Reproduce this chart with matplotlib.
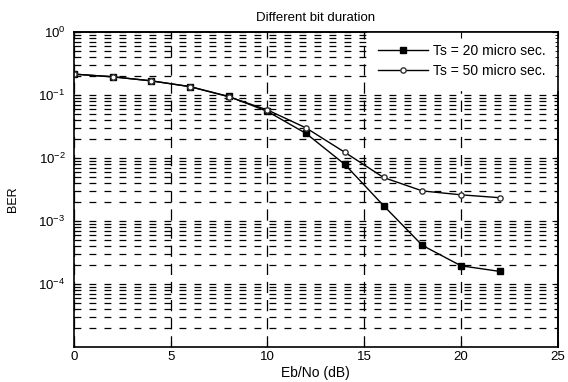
import matplotlib.pyplot as plt

plt.rcParams['font.family'] = ['Liberation Sans', 'DejaVu Sans']

ebno = [0, 2, 4, 6, 8, 10, 12, 14, 16, 18, 20, 22]

ber_20 = [0.215, 0.195, 0.168, 0.136, 0.095, 0.055, 0.0245,
          0.0079, 0.00175, 0.00041, 0.000194, 0.000158]

ber_50 = [0.215, 0.195, 0.168, 0.136, 0.094, 0.058, 0.030,
          0.0123, 0.0049, 0.0030, 0.0026, 0.00234]

labels = ["Ts = 20 micro sec.", "Ts = 50 micro sec."]
xticks = [0, 5, 10, 15, 20, 25]
yticks = [1e-4, 1e-3, 1e-2, 1e-1, 1e0]

fig = plt.figure(figsize=(5.68, 3.82), dpi=100)
ax = fig.add_axes([0.130, 0.092, 0.852, 0.824])

ax.semilogy(ebno, ber_20, color='black', lw=1, marker='s', ms=4,
            mfc='black', mec='black', label=labels[0])
ax.semilogy(ebno, ber_50, color='black', lw=1, marker='o', ms=3.8,
            mfc='white', mec='#333333', label=labels[1])

ax.set_xlim(0, 25)
ax.set_ylim(1e-5, 1)
ax.set_xticks(xticks)
ax.set_yticks(yticks)

# matlab style dashed grid, minor lines only on the log axis
ax.grid(True, which='major', axis='y', color='black', ls=(0, (5.5, 6.5)), lw=0.9)
ax.grid(True, which='minor', axis='y', color='black', ls=(0, (5.5, 6.5)), lw=0.9)
ax.grid(True, which='major', axis='x', color='black', ls=(0, (9, 5.5)), lw=0.9)

ax.tick_params(which='both', direction='in', labelsize=9.5)
ax.tick_params(which='major', length=4)
ax.tick_params(which='minor', length=2)
ax.tick_params(axis='y', pad=6)
ax.tick_params(axis='x', pad=3)
for s in ax.spines.values():
    s.set_linewidth(1.2)

# box ticks on top/right drawn above the legend
right = ax.secondary_yaxis('right')
right.set_yticks(yticks)
right.tick_params(which='both', direction='in', labelright=False)
right.tick_params(which='major', length=4)
right.tick_params(which='minor', length=2)
right.spines['right'].set_linewidth(1.2)
right.set_zorder(6)
top = ax.secondary_xaxis('top')
top.set_xticks(xticks)
top.tick_params(direction='in', labeltop=False, length=4)
top.spines['top'].set_linewidth(1.2)
top.set_zorder(6)

ax.set_xlabel("Eb/No (dB)", fontsize=10)
ax.set_ylabel("BER", fontsize=9)
ax.xaxis.set_label_coords(0.5, -0.062)
ax.yaxis.set_label_coords(-0.114, 0.47)
ax.set_title("Different bit duration", fontsize=9.5, pad=8)

leg = ax.legend(loc='upper right', fontsize=10, frameon=True, fancybox=False,
                handlelength=3.6, handletextpad=0.36, labelspacing=0.44,
                borderaxespad=0, borderpad=0.85, edgecolor='white',
                framealpha=1)

plt.savefig('out.png', dpi=100)
